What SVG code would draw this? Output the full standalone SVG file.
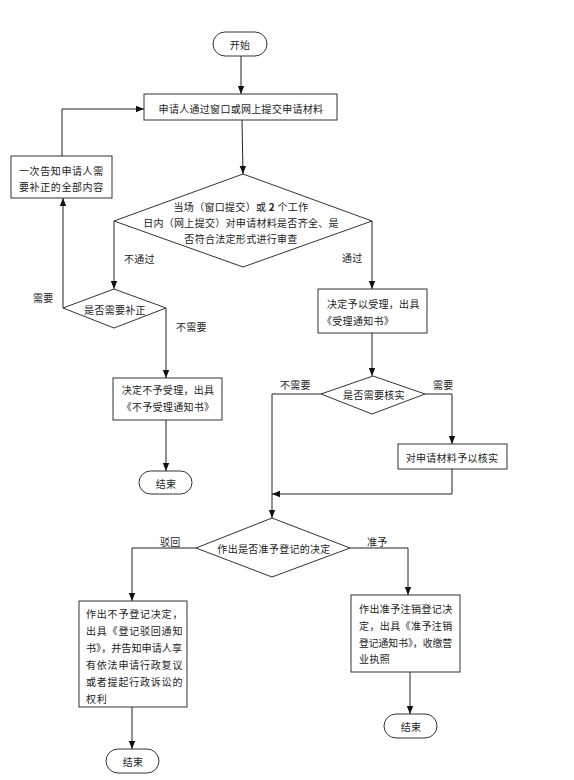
<svg xmlns="http://www.w3.org/2000/svg" width="574" height="780" viewBox="0 0 574 780">
<style>
.n{fill:#fff;stroke:#333;stroke-width:1}
.t{font-family:"Noto Sans CJK SC","Noto Sans",sans-serif;font-size:10px;fill:#222;dominant-baseline:central;letter-spacing:0.3px}
.c{text-anchor:middle}
.e{fill:none;stroke:#222;stroke-width:1}
</style>
<defs>
<marker id="a" markerUnits="userSpaceOnUse" markerWidth="8" markerHeight="8" viewBox="0 0 8 8" refX="8" refY="4" orient="auto">
<path d="M0,0.8 L8,4 L0,7.2 z" fill="#111"/>
</marker>
</defs>
<rect width="574" height="780" fill="#fff"/>
<g id="connectors">
<path class="e" d="M241,56 V94" marker-end="url(#a)"/>
<path class="e" d="M242,120 L243,174" marker-end="url(#a)"/>
<path class="e" d="M114,221 V289" marker-end="url(#a)"/>
<path class="e" d="M372,221 V289" marker-end="url(#a)"/>
<path class="e" d="M63,308 V198" marker-end="url(#a)"/>
<path class="e" d="M62,156 V109 H144" marker-end="url(#a)"/>
<path class="e" d="M166,308 V378" marker-end="url(#a)"/>
<path class="e" d="M166,420 V471" marker-end="url(#a)"/>
<path class="e" d="M372,333 V376" marker-end="url(#a)"/>
<path class="e" d="M321,394 H272 V518" marker-end="url(#a)"/>
<path class="e" d="M425,394 H452 V444" marker-end="url(#a)"/>
<path class="e" d="M452,469 V494 H272" marker-end="url(#a)"/>
<path class="e" d="M196,548 H132 V601" marker-end="url(#a)"/>
<path class="e" d="M350,548 H408 V595" marker-end="url(#a)"/>
<path class="e" d="M132,707 V749" marker-end="url(#a)"/>
<path class="e" d="M410,672 V714" marker-end="url(#a)"/>
</g>
<g id="labels">
<text class="t" x="124" y="258">不通过</text>
<text class="t" x="342" y="257">通过</text>
<text class="t" x="33" y="297">需要</text>
<text class="t" x="176" y="326">不需要</text>
<text class="t" x="280" y="384">不需要</text>
<text class="t" x="433" y="384">需要</text>
<text class="t" x="160" y="541">驳回</text>
<text class="t" x="367" y="541">准予</text>
</g>
<g id="start">
<rect class="n" x="213" y="32" width="54" height="24" rx="12"/>
<text class="t c" x="240" y="44">开始</text>
</g>
<g id="submit">
<rect class="n" x="144" y="94" width="193" height="26"/>
<text class="t c" x="241" y="108">申请人通过窗口或网上提交申请材料</text>
</g>
<g id="notify">
<rect class="n" x="11" y="156" width="101" height="42"/>
<text class="t" x="19" y="170" style="letter-spacing:0.6px">一次告知申请人需</text>
<text class="t" x="19" y="186" style="letter-spacing:0.6px">要补正的全部内容</text>
</g>
<g id="review">
<polygon class="n" points="243,174 372,221 243,267 114,221"/>
<text class="t c" x="241" y="206">当场（窗口提交）或 <tspan font-weight="bold">2</tspan> 个工作</text>
<text class="t c" x="241" y="222">日内（网上提交）对申请材料是否齐全、是</text>
<text class="t c" x="241" y="238">否符合法定形式进行审查</text>
</g>
<g id="needfix">
<polygon class="n" points="114,289 166,308 114,328 63,308"/>
<text class="t c" x="115" y="309">是否需要补正</text>
</g>
<g id="reject">
<rect class="n" x="113" y="378" width="109" height="42"/>
<text class="t c" x="168" y="389">决定不予受理，出具</text>
<text class="t c" x="168" y="406">《不予受理通知书》</text>
</g>
<g id="end1">
<rect class="n" x="139" y="471" width="53" height="23" rx="11.5"/>
<text class="t c" x="166" y="483">结束</text>
</g>
<g id="accept">
<rect class="n" x="318" y="289" width="109" height="44"/>
<text class="t" x="327" y="303">决定予以受理，出具</text>
<text class="t" x="322" y="320">《受理通知书》</text>
</g>
<g id="needverify">
<polygon class="n" points="373,376 425,394 372,414 321,394"/>
<text class="t c" x="374" y="394">是否需要核实</text>
</g>
<g id="verify">
<rect class="n" x="398" y="444" width="109" height="25"/>
<text class="t c" x="452" y="457">对申请材料予以核实</text>
</g>
<g id="decide">
<polygon class="n" points="272,518 350,548 272,577 196,548"/>
<text class="t c" x="274" y="548">作出是否准予登记的决定</text>
</g>
<g id="deny">
<rect class="n" x="79" y="601" width="108" height="106"/>
<text class="t" x="86" y="613" style="letter-spacing:0.8px">作出不予登记决定，</text>
<text class="t" x="86" y="630" style="letter-spacing:0.8px">出具《登记驳回通知</text>
<text class="t" x="86" y="647" style="letter-spacing:0px" textLength="96" lengthAdjust="spacingAndGlyphs">书》，并告知申请人享</text>
<text class="t" x="86" y="664" style="letter-spacing:0.8px">有依法申请行政复议</text>
<text class="t" x="86" y="681" style="letter-spacing:0.8px">或者提起行政诉讼的</text>
<text class="t" x="86" y="698" style="letter-spacing:0.8px">权利</text>
</g>
<g id="end2">
<rect class="n" x="106" y="749" width="53" height="24" rx="12"/>
<text class="t c" x="133" y="761">结束</text>
</g>
<g id="grant">
<rect class="n" x="351" y="595" width="109" height="77"/>
<text class="t" x="359" y="608" style="letter-spacing:0.4px">作出准予注销登记决</text>
<text class="t" x="359" y="625" style="letter-spacing:0.4px">定，出具《准予注销</text>
<text class="t" x="359" y="642" style="letter-spacing:0px" textLength="93" lengthAdjust="spacingAndGlyphs">登记通知书》，收缴营</text>
<text class="t" x="359" y="658" style="letter-spacing:0.4px">业执照</text>
</g>
<g id="end3">
<rect class="n" x="384" y="714" width="53" height="24" rx="12"/>
<text class="t c" x="411" y="726">结束</text>
</g>
</svg>
